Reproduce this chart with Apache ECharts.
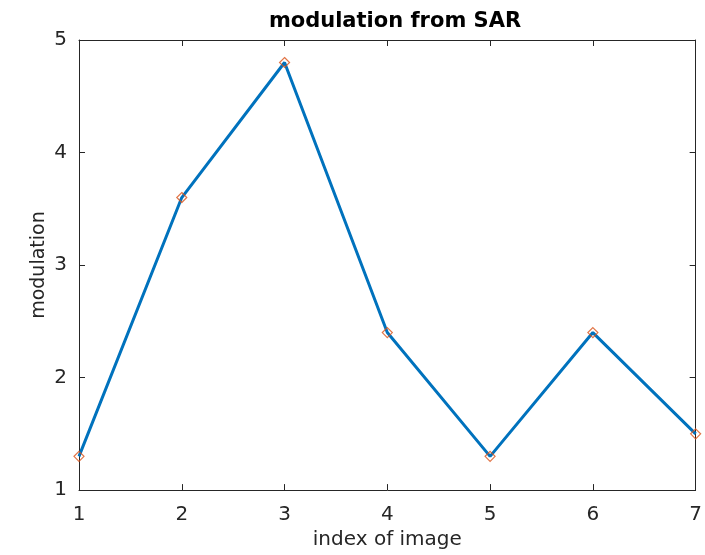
<!DOCTYPE html>
<html><head><meta charset="utf-8">
<script src="https://cdn.jsdelivr.net/npm/echarts@6/dist/echarts.min.js"></script>
<style>html,body{margin:0;padding:0;background:#fff}#c{width:705px;height:555px}</style>
</head><body><div id="c"></div>
<script>
const xValues = [1, 2, 3, 4, 5, 6, 7];
const modulation = [1.3, 3.6, 4.8, 2.4, 1.3, 2.4, 1.5];
const titleText = 'modulation from SAR';
const xName = 'index of image';
const yName = 'modulation';

const FONT = 'DejaVu Sans, Liberation Sans, sans-serif';
const chart = echarts.init(document.getElementById('c'));
const axisCommon = {
  axisLine: {show: true, onZero: false, lineStyle: {color: '#262626', width: 1}},
  axisTick: {show: true, inside: true, length: 6, lineStyle: {color: '#262626'}},
  splitLine: {show: false}
};
chart.setOption({
  animation: false,
  backgroundColor: '#fff',
  title: {text: titleText, left: 390, top: 6, textAlign: 'center',
    textStyle: {fontFamily: FONT, fontWeight: 'bold', fontSize: 21, color: '#000'}},
  grid: {left: 79, right: 8, top: 40, bottom: 63},
  xAxis: [
    Object.assign({type: 'value', min: 1, max: 7, interval: 1, position: 'bottom',
      name: xName, nameLocation: 'middle', nameGap: 39,
      nameTextStyle: {fontFamily: FONT, fontSize: 20, color: '#262626'},
      axisLabel: {fontFamily: FONT, fontSize: 20, color: '#262626', margin: 15}}, axisCommon),
    Object.assign({type: 'value', min: 1, max: 7, interval: 1, position: 'top', axisLabel: {show: false}}, axisCommon)
  ],
  yAxis: [
    Object.assign({type: 'value', min: 1, max: 5, interval: 1, position: 'left',
      name: yName, nameLocation: 'middle', nameGap: 30, nameMoveOverlap: false,
      nameTextStyle: {fontFamily: FONT, fontSize: 19, color: '#262626'},
      axisLabel: {fontFamily: FONT, fontSize: 20, color: '#262626', margin: 12}}, axisCommon),
    Object.assign({type: 'value', min: 1, max: 5, interval: 1, position: 'right', axisLabel: {show: false}}, axisCommon)
  ],
  series: [
    {type: 'line', xAxisIndex: 0, yAxisIndex: 0,
      data: xValues.map((x, i) => [x, modulation[i]]),
      lineStyle: {color: '#0072BD', width: 3}, showSymbol: false, symbol: 'none', z: 2},
    {type: 'scatter', xAxisIndex: 0, yAxisIndex: 0,
      data: xValues.map((x, i) => [x, modulation[i]]),
      symbol: 'diamond', symbolSize: [10, 10],
      itemStyle: {color: 'rgba(0,0,0,0)', borderColor: '#D95319', borderWidth: 1.2}, z: 3}
  ]
});
</script></body></html>
